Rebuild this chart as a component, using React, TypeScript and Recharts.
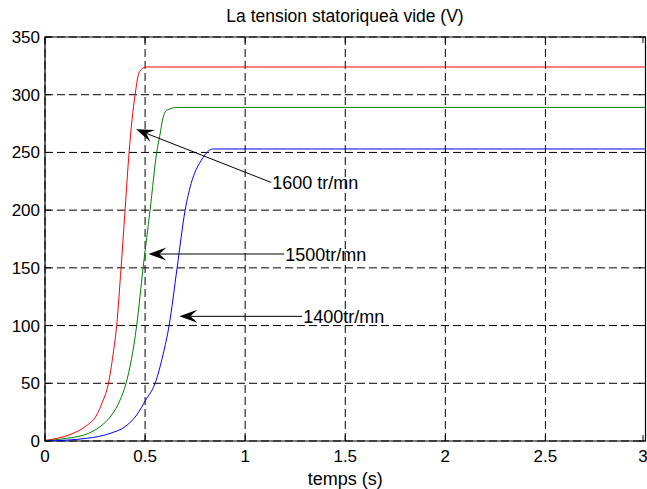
import {
  LineChart,
  Line,
  XAxis,
  YAxis,
  CartesianGrid,
  ReferenceArea,
  ReferenceLine,
} from 'recharts';

interface Pt {
  t: number;
  v: number;
}

// stator voltage build-up at no load, one run per speed
const t1600 = [0, 0.06, 0.14, 0.2, 0.258, 0.285, 0.317, 0.34, 0.358, 0.38, 0.4, 0.42, 0.45, 0.472, 0.505, 3];
const v1600 = [0.5, 2.3, 6.6, 12.4, 22.5, 33, 50, 75, 100, 150, 200, 250, 300, 320, 324, 324];

const t1500 = [0, 0.108, 0.217, 0.275, 0.333, 0.375, 0.405, 0.458, 0.49, 0.525, 0.558, 0.575, 0.587, 0.608, 0.665, 3];
const v1500 = [0.3, 2.3, 6.6, 12.4, 22.5, 35.5, 50, 100, 150, 200, 250, 266, 278, 286.5, 289, 289];

const t1400 = [0, 0.208, 0.325, 0.4, 0.458, 0.503, 0.55, 0.59, 0.62, 0.66, 0.7, 0.73, 0.78, 0.84, 3];
const v1400 = [0, 2.3, 6.6, 12.4, 22.5, 35.5, 50, 75, 100, 150, 200, 223, 243, 253, 253];

const xTicks = [0, 0.5, 1, 1.5, 2, 2.5, 3];
const yTicks = [0, 50, 100, 150, 200, 250, 300, 350];

// arrow annotations: tip on the curve, tail at the label
const notes = [
  { text: '1600 tr/mn', tip: { x: 0.455, y: 270 }, tail: { x: 1.13, y: 224 } },
  { text: '1500tr/mn', tip: { x: 0.5165, y: 162 }, tail: { x: 1.195, y: 162 } },
  { text: '1400tr/mn', tip: { x: 0.6715, y: 108 }, tail: { x: 1.285, y: 108 } },
];

const zip = (ts: number[], vs: number[]): Pt[] => ts.map((t, i) => ({ t, v: vs[i] }));

const FONT = '"Liberation Sans", Arial, Helvetica, sans-serif';
const PLOT_W = 600;
const PLOT_H = 404;
const TICK = 6;

function XTick(props: any) {
  const { x, y, payload } = props;
  return (
    <g>
      <line x1={x} x2={x} y1={y} y2={y - TICK} stroke="#000" />
      <line x1={x} x2={x} y1={y - PLOT_H} y2={y - PLOT_H + TICK} stroke="#000" />
      <text x={x} y={y + 21} textAnchor="middle" fontSize={17} fontFamily={FONT} fill="#000">
        {payload.value}
      </text>
    </g>
  );
}

function YTick(props: any) {
  const { x, y, payload } = props;
  return (
    <g>
      <line x1={x} x2={x + TICK} y1={y} y2={y} stroke="#000" />
      <line x1={x + PLOT_W} x2={x + PLOT_W - TICK} y1={y} y2={y} stroke="#000" />
      <text x={x - 5} y={y + 6} textAnchor="end" fontSize={17} fontFamily={FONT} fill="#000">
        {payload.value}
      </text>
    </g>
  );
}

function Arrow(props: any) {
  const { x1, y1, x2, y2, label } = props;
  const ang = Math.atan2(y2 - y1, x2 - x1);
  const c = Math.cos(ang);
  const s = Math.sin(ang);
  const L = 18;
  const W = 6.5;
  const N = 11;
  const at = (a: number, b: number) => `${x1 + a * c - b * s},${y1 + a * s + b * c}`;
  const head = [at(0, 0), at(L, W), at(N, 0), at(L, -W)].join(' ');
  return (
    <g>
      <line x1={x1 + N * c} y1={y1 + N * s} x2={x2} y2={y2} stroke="#000" strokeWidth={1} />
      <polygon points={head} fill="#000" />
      <text x={x2 + 1} y={y2 + 6.5} fontSize={18} fontFamily={FONT} fill="#000">
        {label}
      </text>
    </g>
  );
}

export default function App() {
  return (
    <div style={{ position: 'absolute', left: 0, top: 0, width: 647, height: 489, background: '#fff' }}>
      <div
        style={{
          position: 'absolute',
          left: 45,
          width: PLOT_W,
          top: 6,
          textAlign: 'center',
          fontFamily: FONT,
          fontSize: 17.5,
          lineHeight: '20px',
          color: '#000',
        }}
      >
        La tension statoriqueà vide (V)
      </div>
      <LineChart width={647} height={489} margin={{ top: 37, right: 1.5, bottom: 0, left: 0 }}>
        <CartesianGrid stroke="#000" strokeDasharray="8 4" />
        <XAxis
          type="number"
          dataKey="t"
          domain={[0, 3]}
          ticks={xTicks}
          allowDataOverflow
          height={48}
          axisLine={false}
          tickLine={false}
          tickSize={0}
          tickMargin={0}
          tick={<XTick />}
          label={{ value: 'temps (s)', position: 'insideBottom', offset: 4, fontSize: 18, fontFamily: FONT, fill: '#000' }}
        />
        <YAxis
          type="number"
          dataKey="v"
          domain={[0, 350]}
          ticks={yTicks}
          allowDataOverflow
          width={45}
          axisLine={false}
          tickLine={false}
          tickSize={0}
          tickMargin={0}
          tick={<YTick />}
        />
        <ReferenceArea x1={0} x2={3} y1={0} y2={350} fill="none" stroke="#000" strokeWidth={1.2} />
        <Line type="monotone" data={zip(t1600, v1600)} dataKey="v" stroke="#ff0000" strokeWidth={1} dot={false} isAnimationActive={false} />
        <Line type="monotone" data={zip(t1500, v1500)} dataKey="v" stroke="#008000" strokeWidth={1} dot={false} isAnimationActive={false} />
        <Line type="monotone" data={zip(t1400, v1400)} dataKey="v" stroke="#0000ff" strokeWidth={1} dot={false} isAnimationActive={false} />
        {notes.map((n) => (
          <ReferenceLine
            key={n.text}
            segment={[n.tip, n.tail]}
            shape={(p: any) => <Arrow {...p} label={n.text} />}
          />
        ))}
      </LineChart>
    </div>
  );
}
